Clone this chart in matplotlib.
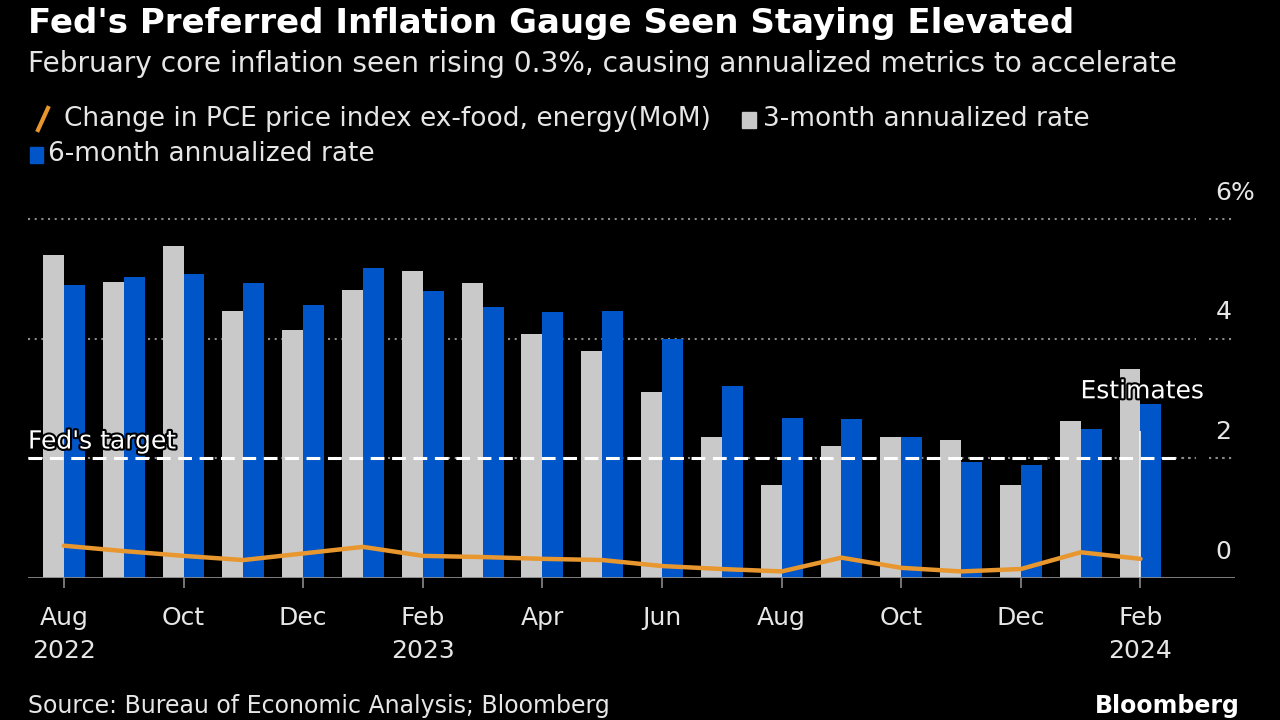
import matplotlib
matplotlib.use("Agg")
import matplotlib.pyplot as plt
import matplotlib.patheffects as pe
from matplotlib.patches import Rectangle
from matplotlib.lines import Line2D
import numpy as np

# data (Aug 2022 .. Feb 2024)
months = ["Aug", "Sep", "Oct", "Nov", "Dec", "Jan", "Feb", "Mar", "Apr", "May",
          "Jun", "Jul", "Aug", "Sep", "Oct", "Nov", "Dec", "Jan", "Feb"]
three_month = [5.40, 4.95, 5.55, 4.46, 4.15, 4.82, 5.13, 4.93, 4.08, 3.80,
               3.11, 2.36, 1.56, 2.21, 2.36, 2.31, 1.56, 2.63, 3.49]
six_month = [4.90, 5.03, 5.08, 4.93, 4.57, 5.18, 4.80, 4.53, 4.45, 4.46,
             4.00, 3.21, 2.68, 2.66, 2.36, 1.94, 1.89, 2.49, 2.91]
mom = [0.54, 0.45, 0.37, 0.30, 0.41, 0.52, 0.37, 0.35, 0.32, 0.30,
       0.20, 0.15, 0.11, 0.34, 0.17, 0.11, 0.15, 0.43, 0.32]
tick_pos = [0, 2, 4, 6, 8, 10, 12, 14, 16, 18]
tick_labels = ["Aug\n2022", "Oct", "Dec", "Feb\n2023", "Apr", "Jun", "Aug", "Oct", "Dec", "Feb\n2024"]
y_ticks = [0, 2, 4, 6]
y_labels = ["0", "2", "4", "6%"]
fed_target = 2

BG = "#000000"
GREY = "#c9c9c9"
BLUE = "#0055c8"
ORANGE = "#e8962e"
TXT = "#e6e6e6"

plt.rcParams["font.family"] = ["DejaVu Sans"]

fig = plt.figure(figsize=(12.8, 7.2), dpi=100, facecolor=BG)
ax = fig.add_axes([28 / 1280, 1 - 578 / 720, (1235 - 28) / 1280, (578 - 189) / 720])
ax.set_facecolor(BG)

x = np.arange(len(months))
w = 0.35
ax.bar(x, three_month, width=-w, align="edge", color=GREY, zorder=2)
ax.bar(x, six_month, width=w, align="edge", color=BLUE, zorder=2)
ax.plot(x, mom, color=ORANGE, lw=3.2, zorder=4, solid_capstyle="round")

# estimate marker on the last month
ax.vlines(x[-1], 0, 2.45, color="#f4f4f4", lw=1.2, zorder=3)

ax.set_xlim(-0.6, 19.58)
ax.set_ylim(0, 6.5)

# gridlines (dotted), with a short gap before the labels
for yv in y_ticks[1:]:
    ax.hlines(yv, -0.6, 18.92, color="#8a8a8a", lw=1.5, ls=(0, (1, 2.2)), zorder=1)
    ax.hlines(yv, 19.15, 19.55, color="#8a8a8a", lw=1.5, ls=(0, (1, 2.2)), zorder=1)
ax.axhline(0, color="#8a8a8a", lw=2, zorder=5)
ax.hlines(fed_target, -0.6, 18.65, color="white", lw=2.2, ls=(0, (4.5, 2.5)), zorder=3)
ax.hlines(fed_target, 18.7, 18.92, color="#8a8a8a", lw=1.5, ls=(0, (1, 2.2)), zorder=1)
ax.hlines(fed_target, 19.15, 19.55, color="#8a8a8a", lw=1.5, ls=(0, (1, 2.2)), zorder=1)

for yv, lab in zip(y_ticks, y_labels):
    ax.text(19.25, yv + 0.24, lab, color=TXT, fontsize=18, ha="left", va="bottom")

outline = [pe.withStroke(linewidth=3, foreground="black")]
ax.text(-0.6, fed_target + 0.08, "Fed's target", color="white", fontsize=18,
        ha="left", va="bottom", zorder=6, path_effects=outline)
ax.text(18.03, 3.12, "Estimates", color="white", fontsize=18,
        ha="center", va="center", zorder=6, path_effects=outline)

for s in ax.spines.values():
    s.set_visible(False)
ax.set_yticks([])
ax.set_xticks(tick_pos)
ax.set_xticklabels(tick_labels, color=TXT, fontsize=18, linespacing=1.5)
ax.tick_params(axis="x", length=7, width=1.2, color="#8a8a8a", pad=13)

# title block
fig.text(28 / 1280, 1 - 23 / 720, "Fed's Preferred Inflation Gauge Seen Staying Elevated",
         color="white", fontsize=24.5, fontweight="bold", ha="left", va="center")
fig.text(28 / 1280, 1 - 64 / 720,
         "February core inflation seen rising 0.3%, causing annualized metrics to accelerate",
         color=TXT, fontsize=20.2, ha="left", va="center")

# legend
fig.add_artist(Line2D([38 / 1280, 48 / 1280], [1 - 130 / 720, 1 - 108 / 720],
                      color=ORANGE, lw=3, transform=fig.transFigure))
fig.text(64 / 1280, 1 - 119 / 720, "Change in PCE price index ex-food, energy(MoM)",
         color=TXT, fontsize=19, ha="left", va="center")
fig.add_artist(Rectangle((742 / 1280, 1 - 128 / 720), 14 / 1280, 16 / 720,
                         color=GREY, transform=fig.transFigure))
fig.text(763 / 1280, 1 - 119 / 720, "3-month annualized rate",
         color=TXT, fontsize=19, ha="left", va="center")
fig.add_artist(Rectangle((30 / 1280, 1 - 163 / 720), 13 / 1280, 16 / 720,
                         color=BLUE, transform=fig.transFigure))
fig.text(48 / 1280, 1 - 154 / 720, "6-month annualized rate",
         color=TXT, fontsize=19, ha="left", va="center")

# footer
fig.text(28 / 1280, 1 - 718 / 720, "Source: Bureau of Economic Analysis; Bloomberg",
         color=TXT, fontsize=17, ha="left", va="bottom")
fig.text(1240 / 1280, 1 - 718 / 720, "Bloomberg", color="white", fontsize=17,
         fontweight="bold", ha="right", va="bottom")

fig.savefig("out.png", dpi=100, facecolor=BG)
